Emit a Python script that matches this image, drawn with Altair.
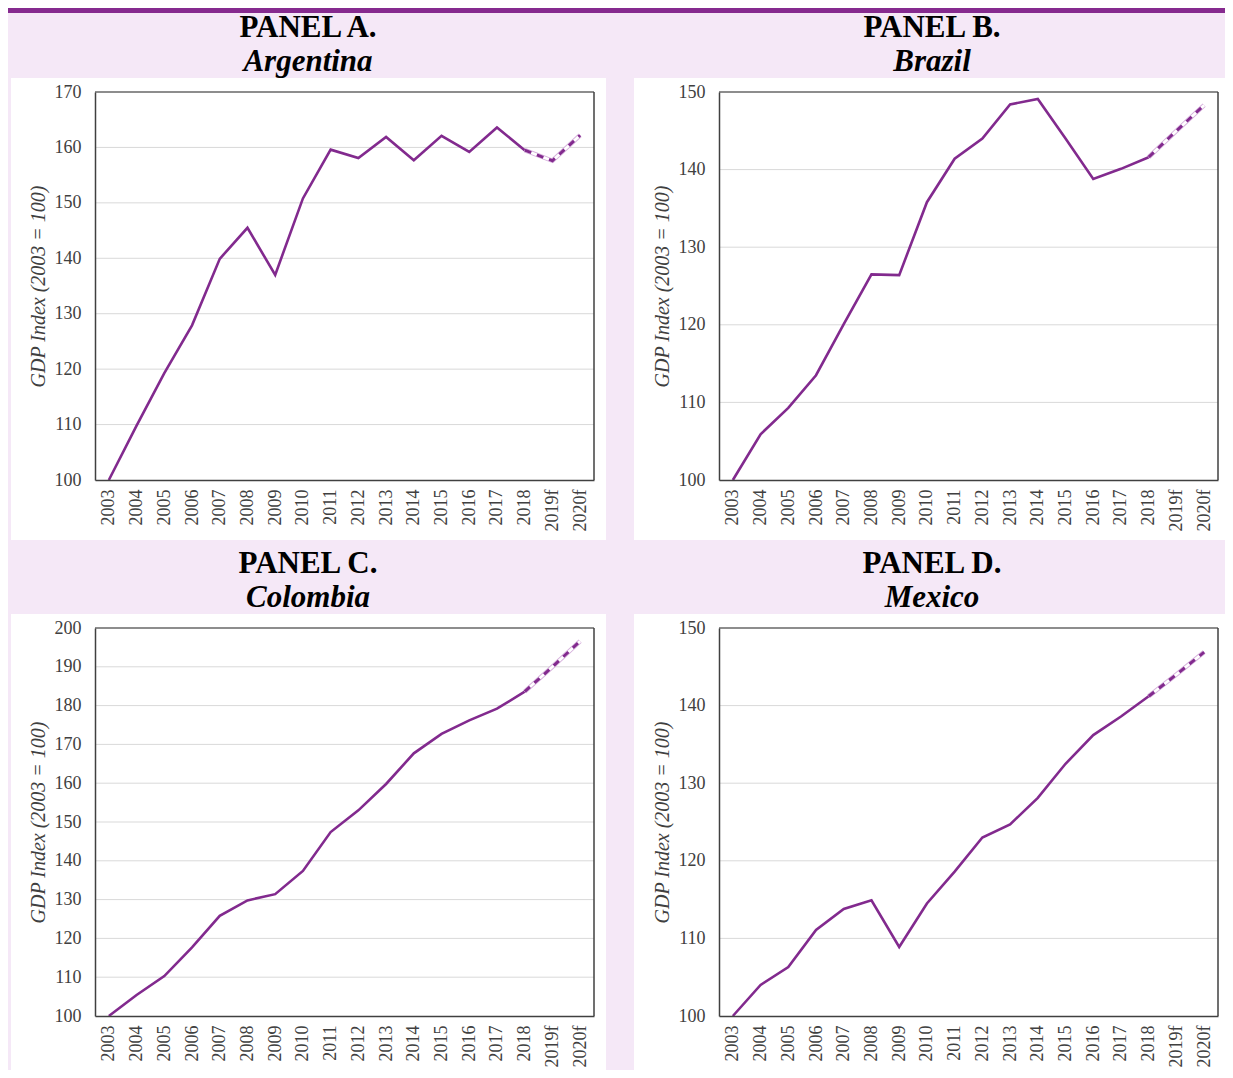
import altair as alt
import pandas as pd

years = ["2003", "2004", "2005", "2006", "2007", "2008", "2009", "2010", "2011",
         "2012", "2013", "2014", "2015", "2016", "2017", "2018", "2019f", "2020f"]
argentina = [100, 109.8, 119.3, 127.9, 139.9, 145.5, 137.0, 150.8, 159.6,
             158.1, 161.9, 157.7, 162.1, 159.2, 163.6, 159.5, 157.6, 162.2]
brazil = [100, 105.9, 109.3, 113.5, 120.1, 126.5, 126.4, 135.8, 141.4,
          144.0, 148.4, 149.1, 144.0, 138.8, 140.1, 141.6, 145.0, 148.3]
colombia = [100, 105.4, 110.3, 117.7, 125.8, 129.8, 131.4, 137.4, 147.4,
            153.0, 159.8, 167.7, 172.7, 176.2, 179.2, 183.6, 190.0, 196.6]
mexico = [100, 104.0, 106.3, 111.1, 113.8, 114.9, 108.9, 114.5, 118.6,
          123.0, 124.7, 128.1, 132.5, 136.2, 138.6, 141.2, 144.0, 146.9]

panel_labels = ["PANEL A.", "PANEL B.", "PANEL C.", "PANEL D."]
countries = ["Argentina", "Brazil", "Colombia", "Mexico"]
series = [argentina, brazil, colombia, mexico]
y_max = [170, 150, 200, 150]
y_ticks = [list(range(100, 171, 10)), list(range(100, 151, 10)),
           list(range(100, 201, 10)), list(range(100, 151, 10))]
y_title = "GDP Index (2003 = 100)"

PURPLE = "#822A8E"
BAR = "#862A8F"
BG = "#F5E8F7"
FONT = "Liberation Serif"
W, H = 499, 388


def panel(i):
    row, col = divmod(i, 2)
    df = pd.DataFrame({"year": years, "value": series[i]})
    actual = df.iloc[:16]
    forecast = df.iloc[15:]
    grid_df = pd.DataFrame({"value": y_ticks[i][1:]})
    one = pd.DataFrame({"k": [0]})

    bar_l = -87 if col == 0 else -85
    bar_r = 539 if col == 0 else 506
    white_l = -84 if col == 0 else -85
    white_r = 511 if col == 0 else 506
    white_b = 448 if row == 0 else 442

    xscale = alt.Scale(type="point", padding=0.5, domain=years)
    yscale = alt.Scale(domain=[100, y_max[i]], nice=False, zero=False)
    xaxis = alt.Axis(labelAngle=270, ticks=False, grid=False, domainColor="#404040",
                     domainWidth=1.5, labelFont=FONT, labelFontSize=18,
                     labelColor="#404040", labelPadding=9, labelOverlap=False, zindex=1)
    yaxis = alt.Axis(values=y_ticks[i], ticks=False, grid=False, domainColor="#404040",
                     domainWidth=1.5, labelFont=FONT, labelFontSize=18,
                     labelColor="#404040", labelPadding=14, labelOverlap=False,
                     titleFont=FONT, titleFontSize=20, titleFontStyle="italic",
                     titleFontWeight="normal", titleColor="#404040", titlePadding=6,
                     zindex=1)
    X = alt.X("year:O", sort=years, scale=xscale, axis=xaxis, title=None)
    Y = alt.Y("value:Q", scale=yscale, axis=yaxis, title=y_title)

    if row == 0:
        top = alt.Chart(one).mark_rect(color=BAR).encode(
            x=alt.value(bar_l), x2=alt.value(bar_r), y=alt.value(-84), y2=alt.value(-79))
    else:
        top = alt.Chart(one).mark_rect(opacity=0).encode(
            x=alt.value(bar_l), x2=alt.value(bar_r), y=alt.value(-88), y2=alt.value(-87))

    white = alt.Chart(one).mark_rect(color="white").encode(
        x=alt.value(white_l), x2=alt.value(white_r), y=alt.value(-14), y2=alt.value(white_b))

    grid = alt.Chart(grid_df).mark_rule(color="#D9D9D9", strokeWidth=1).encode(
        x=alt.value(0), x2=alt.value(W), y=Y)

    frame_top = alt.Chart(one).mark_rule(color="#6E6E6E", strokeWidth=1.5).encode(
        x=alt.value(0), x2=alt.value(W), y=alt.value(0))
    frame_right = alt.Chart(one).mark_rule(color="#404040", strokeWidth=1.5).encode(
        x=alt.value(W), y=alt.value(0), y2=alt.value(H))

    t1 = alt.Chart(one).mark_text(text=panel_labels[i], font=FONT, fontSize=31,
                                  fontWeight="bold", color="black", align="center",
                                  baseline="alphabetic").encode(
        x=alt.value(213), y=alt.value(-55))
    t2 = alt.Chart(one).mark_text(text=countries[i], font=FONT, fontSize=31,
                                  fontWeight="bold", fontStyle="italic", color="black",
                                  align="center", baseline="alphabetic").encode(
        x=alt.value(213), y=alt.value(-21))

    line = alt.Chart(actual).mark_line(color=PURPLE, strokeWidth=2.6).encode(x=X, y=Y)
    f_out = alt.Chart(forecast).mark_line(color="#D7B2DD", strokeWidth=4.5).encode(x=X, y=Y)
    f_white = alt.Chart(forecast).mark_line(color="white", strokeWidth=2.6).encode(x=X, y=Y)
    f_dash = alt.Chart(forecast).mark_line(color=PURPLE, strokeWidth=3,
                                           strokeDash=[7, 6]).encode(x=X, y=Y)

    return alt.layer(top, white, grid, frame_top, frame_right, t1, t2,
                     line, f_out, f_white, f_dash).properties(width=W, height=H)


chart = alt.vconcat(
    alt.hconcat(panel(0), panel(1), spacing=0),
    alt.hconcat(panel(2), panel(3), spacing=0),
    spacing=0,
).properties(background=BG, padding=0).configure_view(strokeWidth=0)

chart.save("out.html", embed_options={"renderer": "svg", "actions": False})
